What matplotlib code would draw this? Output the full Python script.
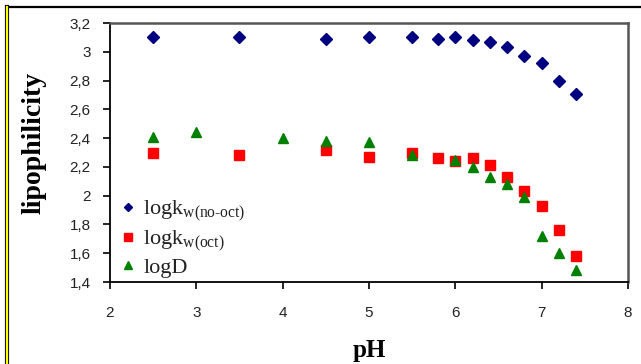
import matplotlib
matplotlib.use("Agg")
import matplotlib.pyplot as plt
from matplotlib.lines import Line2D
from matplotlib.ticker import FuncFormatter

plt.rcParams['mathtext.fontset'] = 'custom'
plt.rcParams['mathtext.rm'] = 'Liberation Serif'

# logk w (no-oct)
ph_nooct = [2.5, 3.5, 4.5, 5.0, 5.5, 5.8, 6.0, 6.2, 6.4, 6.6, 6.8, 7.0, 7.2, 7.4]
logk_nooct = [3.10, 3.10, 3.09, 3.10, 3.10, 3.09, 3.10, 3.08, 3.07, 3.03, 2.97, 2.92, 2.80, 2.71]

# logk w (oct)
ph_oct = [2.5, 3.5, 4.5, 5.0, 5.5, 5.8, 6.0, 6.2, 6.4, 6.6, 6.8, 7.0, 7.2, 7.4]
logk_oct = [2.30, 2.28, 2.32, 2.27, 2.30, 2.26, 2.24, 2.26, 2.21, 2.13, 2.03, 1.93, 1.76, 1.58]

# logD
ph_d = [2.5, 3.0, 4.0, 4.5, 5.0, 5.5, 6.0, 6.2, 6.4, 6.6, 6.8, 7.0, 7.2, 7.4]
logd = [2.41, 2.44, 2.40, 2.38, 2.37, 2.28, 2.25, 2.20, 2.13, 2.08, 1.99, 1.72, 1.60, 1.48]

xticks = [2, 3, 4, 5, 6, 7, 8]
yticks = [1.4, 1.6, 1.8, 2.0, 2.2, 2.4, 2.6, 2.8, 3.0, 3.2]

fig = plt.figure(figsize=(6.41, 3.64), dpi=100)
ax = fig.add_axes([110/641, 1 - 282/364, (628-110)/641, (282-23)/364])

ax.plot(ph_nooct, logk_nooct, 'D', color='#000080', ms=6, ls='none',
        label=r'logk$_\mathrm{w(no\text{-}oct)}$')
ax.plot(ph_oct, logk_oct, 's', color='#ff0000', ms=7.5, ls='none',
        label=r'logk$_\mathrm{w(oct)}$')
ax.plot(ph_d, logd, '^', color='#008000', ms=7.5, ls='none', label='logD')

ax.set_xlim(2, 8)
ax.set_ylim(1.4, 3.2)
ax.set_xticks(xticks)
ax.set_yticks(yticks)

def virgule(v, pos):
    s = ('%.1f' % v).rstrip('0').rstrip('.')
    return s.replace('.', ',')

ax.yaxis.set_major_formatter(FuncFormatter(virgule))
ax.tick_params(direction='out', length=5, width=1.2, labelsize=11)
ax.tick_params(axis='y', pad=9)
ax.tick_params(axis='x', pad=12)
for lab in ax.get_xticklabels() + ax.get_yticklabels():
    lab.set_fontfamily('Liberation Sans')
    lab.set_color('#222222')

for side in ['left', 'bottom']:
    ax.spines[side].set_color('black')
    ax.spines[side].set_linewidth(1.3)
for side in ['top', 'right']:
    ax.spines[side].set_color('#555555')
    ax.spines[side].set_linewidth(1.8)

ax.set_xlabel('pH', fontfamily='Liberation Serif', fontweight='bold', fontsize=18, labelpad=14)
ax.set_ylabel('lipophilicity', fontfamily='Liberation Serif', fontweight='bold', fontsize=20)
ax.yaxis.set_label_coords(-0.122, 0.535)

leg = ax.legend(loc='upper left', bbox_to_anchor=(0.0, 0.355), frameon=False,
                handletextpad=0.3, handlelength=0.8, borderaxespad=0.0,
                labelspacing=0.18, prop={'family': 'Liberation Serif', 'size': 16})
for t in leg.get_texts():
    t.set_color('#222222')
for h, ms in zip(leg.legend_handles, [4.5, 5.5, 5.5]):
    h.set_markersize(ms)

# outer border of the picture
fig.add_artist(Line2D([7/641, 1], [1 - 7/364, 1 - 7/364], color='black', lw=1.6))
fig.add_artist(Line2D([7/641, 7/641], [0, 1 - 7/364], color='black', lw=3.0))
fig.add_artist(Line2D([7/641, 7/641], [0, 1 - 7/364], color='#ffff00', lw=1.6))

fig.savefig('out.png', dpi=100)
